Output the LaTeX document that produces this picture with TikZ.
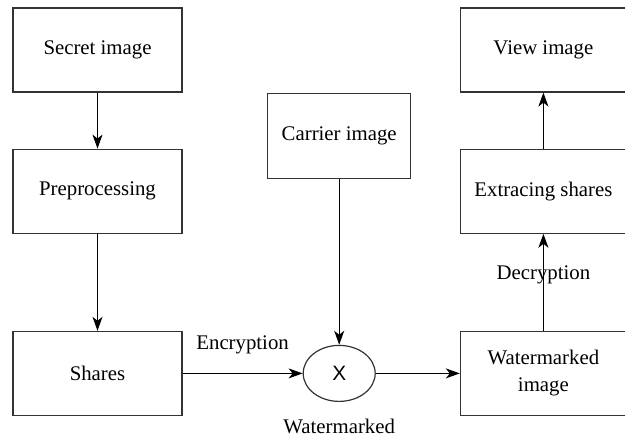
\documentclass[tikz,border=0pt]{standalone}
\usepackage{fontspec}
\setmainfont{Liberation Serif}[Ligatures=TeX]
\newfontfamily\timesfont{Liberation Serif}
\newfontfamily\arialfont{Liberation Sans}
\usetikzlibrary{positioning, arrows.meta, shapes}

\begin{document}
\begin{tikzpicture}[font=\timesfont\fontsize{10.4}{13.5}\selectfont,
	block/.style={draw=black!80, line width=0.6pt, minimum height=42pt, minimum width=84.5pt, align=center},
	sideblock/.style={draw=black!80, line width=0.6pt, minimum height=42pt, minimum width=83pt, align=center},
	carrierblock/.style={draw=black!80, line width=0.6pt, minimum height=42.5pt, minimum width=71.5pt, align=center},
	mixer/.style={draw=black!80, line width=0.6pt, ellipse, minimum width=36pt, minimum height=28pt, inner sep=0pt},
	arrow/.style={-{Stealth[length=7pt, width=5pt, inset=2pt]}, line width=0.6pt}]

	\useasboundingbox (-48.75pt,25pt) rectangle (263.75pt,-193.5pt);

	% Columna izquierda
	\node[block] (secret) at (0,0) {Secret image};
	\node[block, below=28pt of secret] (prep) {Preprocessing};
	\node[block, below=48.5pt of prep] (shares) {Shares};

	% Mezcla con la portadora
	\node[mixer, right=60pt of shares, label={[label distance=5pt]below:Watermarked}] (cross) {\arialfont X};
	\node[carrierblock, above=83pt of cross] (carrier) {Carrier image};

	% Columna derecha (de abajo hacia arriba)
	\node[sideblock, right=42pt of cross] (wm_img) {Watermarked\\image};
	\node[sideblock, above=48.5pt of wm_img] (extract) {Extracing shares};
	\node[sideblock, above=28pt of extract] (view) {View image};

	\draw[arrow] (secret) -- (prep);
	\draw[arrow] (prep) -- (shares);
	\draw[arrow] (shares) -- node[above=6pt] {Encryption} (cross);
	\draw[arrow] (carrier) -- (cross);
	\draw[arrow] (cross) -- (wm_img);
	\draw[arrow] (wm_img) -- node[pos=0.58] {Decryption} (extract);
	\draw[arrow] (extract) -- (view);
\end{tikzpicture}
\end{document}
